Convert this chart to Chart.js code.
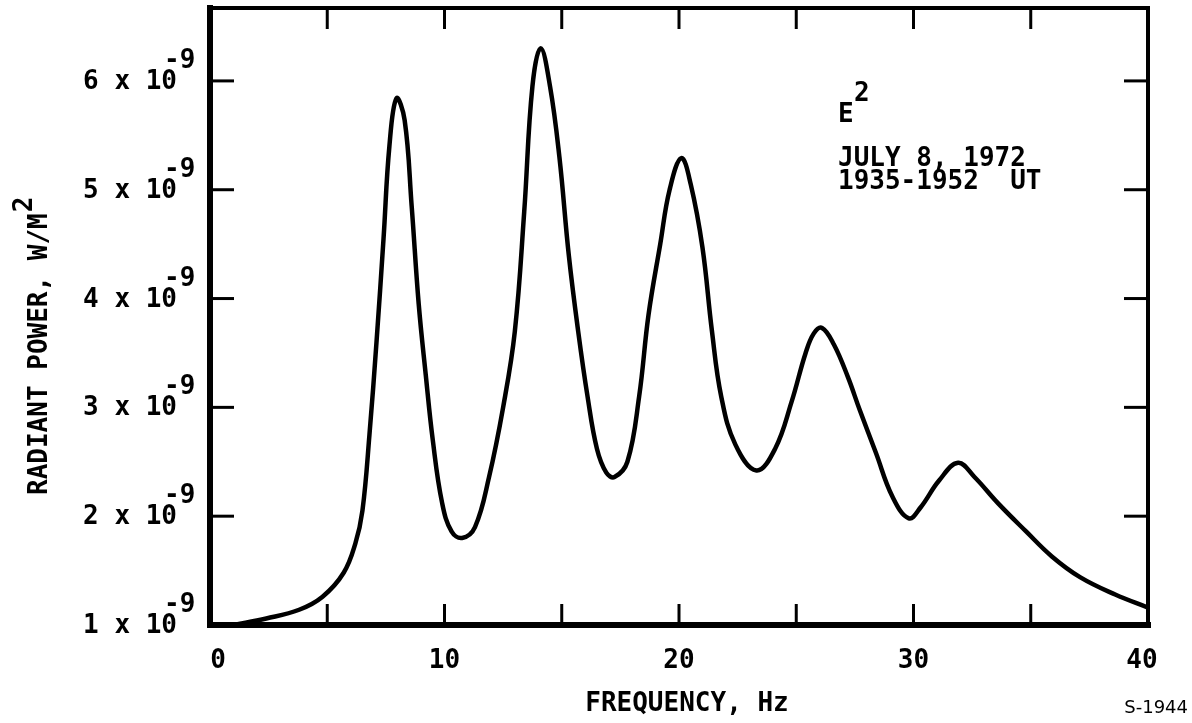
<!DOCTYPE html>
<html>
<head>
<meta charset="utf-8">
<script src="https://cdn.jsdelivr.net/npm/chart.js@4/dist/chart.umd.min.js"></script>
<style>
  html, body { margin: 0; padding: 0; background: #fff; }
  #idCanv_spectrum { display: block; }
</style>
</head>
<body>
<canvas id="idCanv_spectrum" width="1192" height="723"></canvas>
<script>
// frequency in Hz, power in units of 1e-9 W/m^2
const frequency = [1.0, 2.4, 3.8, 4.8, 5.7, 6.2, 6.5, 6.8, 7.1, 7.4, 7.65, 7.95, 8.3, 8.6, 8.9, 9.2, 9.5, 9.9, 10.3, 10.75, 11.3, 11.9, 12.5, 13.0, 13.4, 13.75, 14.1, 14.5, 14.9, 15.3, 15.7, 16.1, 16.5, 16.9, 17.25, 17.8, 18.3, 18.7, 19.2, 19.6, 20.1, 20.5, 21.0, 21.4, 21.8, 22.4, 23.3, 24.1, 24.8, 25.4, 25.75, 26.1, 26.6, 27.2, 27.7, 28.4, 29.1, 29.8, 30.3, 31.1, 31.9, 32.6, 33.6, 34.8, 35.9, 37.1, 38.6, 40.0];
const radiantPower = [1.0, 1.06, 1.14, 1.26, 1.48, 1.75, 2.05, 2.75, 3.6, 4.55, 5.4, 5.84, 5.64, 4.85, 3.95, 3.3, 2.7, 2.12, 1.86, 1.8, 1.9, 2.36, 3.0, 3.7, 4.8, 5.95, 6.3, 5.95, 5.3, 4.4, 3.7, 3.1, 2.62, 2.4, 2.36, 2.5, 3.1, 3.85, 4.5, 5.0, 5.29, 5.05, 4.47, 3.71, 3.1, 2.66, 2.42, 2.62, 3.05, 3.5, 3.68, 3.73, 3.58, 3.28, 2.98, 2.58, 2.18, 1.98, 2.08, 2.33, 2.49, 2.36, 2.12, 1.86, 1.63, 1.44, 1.28, 1.16];

const xLabelValues = [0, 10, 20, 30, 40];
const xTickMarks = [5, 10, 15, 20, 25, 30, 35];
const yLabelValues = [1, 2, 3, 4, 5, 6];
const yTickMarks = [2, 3, 4, 5, 6];

const xTitle = "FREQUENCY, Hz";
const yTitle = "RADIANT POWER, W/M";
const noteLines = ["JULY 8, 1972", "1935-1952  UT"];
const figureId = "S-1944";

const typeFont = "bold 26px 'DejaVu Sans Mono'";

function strokeLine(ctx, x1, y1, x2, y2, width) {
  ctx.lineWidth = width;
  ctx.beginPath();
  ctx.moveTo(x1, y1);
  ctx.lineTo(x2, y2);
  ctx.stroke();
}

const framePlugin = {
  id: "frame",
  afterDraw(chart) {
    const { ctx, chartArea: a, scales } = chart;
    const x = scales.x;
    const y = scales.y;
    ctx.save();
    ctx.strokeStyle = "#000";
    ctx.fillStyle = "#000";
    ctx.lineCap = "square";

    // box
    strokeLine(ctx, a.left, a.top, a.left, a.bottom, 6);
    strokeLine(ctx, a.left, a.bottom, a.right, a.bottom, 6);
    strokeLine(ctx, a.left, a.top, a.right, a.top, 4);
    strokeLine(ctx, a.right, a.top, a.right, a.bottom, 4);

    // inward ticks
    ctx.lineCap = "butt";
    xTickMarks.forEach((v) => {
      const px = x.getPixelForValue(v);
      strokeLine(ctx, px, a.bottom, px, a.bottom - 21, 3);
      strokeLine(ctx, px, a.top, px, a.top + 21, 3);
    });
    yTickMarks.forEach((v) => {
      const py = y.getPixelForValue(v);
      strokeLine(ctx, a.left, py, a.left + 24, py, 3);
      strokeLine(ctx, a.right, py, a.right - 24, py, 3);
    });

    ctx.font = typeFont;
    ctx.letterSpacing = "0px";
    ctx.textBaseline = "alphabetic";

    // x labels
    ctx.textAlign = "center";
    xLabelValues.forEach((v, i) => {
      let px = x.getPixelForValue(v);
      if (i == 0) px += 8;
      if (i == xLabelValues.length - 1) px -= 6;
      ctx.fillText(String(v), px, 668);
    });

    // y labels, typewriter style "n x 10" with raised "-9"
    yLabelValues.forEach((v) => {
      const py = y.getPixelForValue(v);
      ctx.textAlign = "right";
      ctx.fillText(`${v} x 10`, 177, py + 8);
      ctx.textAlign = "left";
      ctx.fillText("-9", 164, py - 13);
    });

    // axis titles
    ctx.textAlign = "center";
    ctx.fillText(xTitle, 687, 711);

    ctx.save();
    ctx.translate(47, 346);
    ctx.rotate(-Math.PI / 2);
    ctx.textAlign = "left";
    ctx.fillText(yTitle, -149, 0);
    const w = ctx.measureText(yTitle).width;
    ctx.fillText("2", -149 + w + 1, -15);
    ctx.restore();

    // annotation
    ctx.textAlign = "left";
    ctx.fillText("E", 838, 122);
    ctx.fillText("2", 854, 101);
    noteLines.forEach((line, i) => {
      ctx.fillText(line, 838, 166 + i * 23);
    });

    ctx.font = "18px 'DejaVu Sans'";
    ctx.textAlign = "right";
    ctx.fillText(figureId, 1188, 713);

    ctx.restore();
  },
};

const spectrumChart = {
  config: {
    type: "scatter",
    data: {
      datasets: [
        {
          data: frequency.map((f, i) => ({ x: f, y: radiantPower[i] })),
          showLine: true,
          borderColor: "#000",
          borderWidth: 4.5,
          pointRadius: 0,
          tension: 0.4,
          fill: false,
        },
      ],
    },
    options: {
      responsive: false,
      animation: false,
      devicePixelRatio: 1,
      layout: {
        padding: { left: 210, right: 44, top: 8, bottom: 98 },
      },
      plugins: {
        legend: { display: false },
        tooltip: { enabled: false },
      },
      scales: {
        x: { type: "linear", min: 0, max: 40, display: false },
        y: { type: "linear", min: 1, max: 6.67, display: false },
      },
    },
    plugins: [framePlugin],
  },
  canvas: null,
};

spectrumChart.canvas = new Chart(document.getElementById("idCanv_spectrum"), spectrumChart.config);
</script>
</body>
</html>
